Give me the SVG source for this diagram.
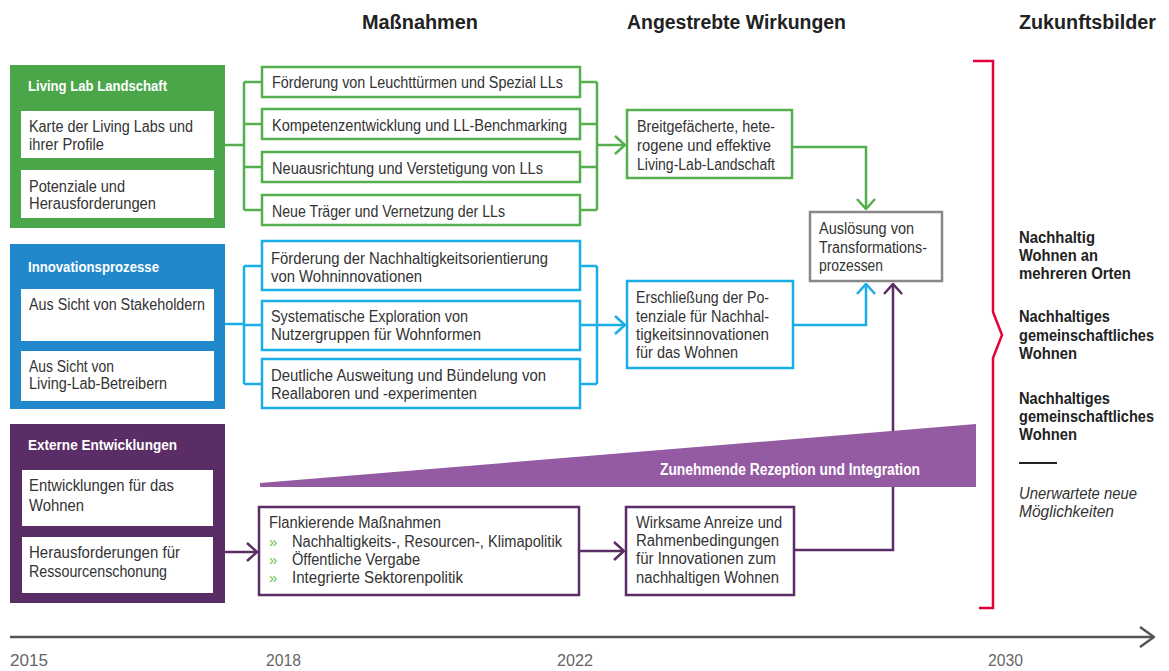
<svg xmlns="http://www.w3.org/2000/svg" width="1169" height="671" viewBox="0 0 1169 671">
<style>
text{font-family:"Liberation Sans",Arial,sans-serif;fill:#333;font-size:16px}
.t{font-size:15px;font-weight:bold;fill:#fff}
.h{font-size:20px;font-weight:bold;fill:#222}
.b{font-weight:bold;fill:#222}
.i{font-style:italic}
.y{fill:#666}
.gs{fill:#fff;stroke:#55AF4F;stroke-width:2.5}
.bs{fill:#fff;stroke:#1AADE6;stroke-width:2.5}
.ps{fill:#fff;stroke:#5B2D66;stroke-width:2.5}
.cg{fill:none;stroke:#55AF4F;stroke-width:2.5}
.cb{fill:none;stroke:#1AADE6;stroke-width:2.5}
.cp{fill:none;stroke:#5B2D66;stroke-width:2.5}
.bul{fill:#6DBE45;font-size:15px}
</style>
<defs>
<marker id="ag" viewBox="0 0 12 20" refX="11" refY="10" markerWidth="12" markerHeight="20" markerUnits="userSpaceOnUse" orient="auto"><path d="M1,1 L11,10 L1,19" fill="none" stroke="#55AF4F" stroke-width="2.5"/></marker>
<marker id="ab" viewBox="0 0 12 20" refX="11" refY="10" markerWidth="12" markerHeight="20" markerUnits="userSpaceOnUse" orient="auto"><path d="M1,1 L11,10 L1,19" fill="none" stroke="#1AADE6" stroke-width="2.5"/></marker>
<marker id="ap" viewBox="0 0 12 20" refX="11" refY="10" markerWidth="12" markerHeight="20" markerUnits="userSpaceOnUse" orient="auto"><path d="M1,1 L11,10 L1,19" fill="none" stroke="#5B2D66" stroke-width="2.5"/></marker>
<marker id="ak" viewBox="0 0 16 22" refX="15" refY="11" markerWidth="16" markerHeight="22" markerUnits="userSpaceOnUse" orient="auto"><path d="M1,1 L15,11 L1,21" fill="none" stroke="#555" stroke-width="2.5"/></marker>
</defs>

<g id="headers">
<text class="h" x="362" y="29" textLength="116" lengthAdjust="spacingAndGlyphs">Maßnahmen</text>
<text class="h" x="627" y="29" textLength="219" lengthAdjust="spacingAndGlyphs">Angestrebte Wirkungen</text>
<text class="h" x="1019" y="29" textLength="137" lengthAdjust="spacingAndGlyphs">Zukunftsbilder</text>
</g>

<g id="connectors">
<path class="cg" d="M225,145 H244 M244,82 V210 M244,82 H262 M244,124 H262 M244,167 H262 M244,210 H262"/>
<path class="cg" d="M580,82 H597 M580,124 H597 M580,167 H597 M580,210 H597 M597,82 V210"/>
<path class="cg" d="M597,145 H625" marker-end="url(#ag)"/>
<path class="cg" d="M792,147 H866 V209" marker-end="url(#ag)"/>
<path class="cb" d="M225,324 H244 M244,266 V384 M244,266 H262 M244,325 H262 M244,384 H262"/>
<path class="cb" d="M580,266 H597 M580,325 H597 M580,384 H597 M597,266 V384"/>
<path class="cb" d="M597,325 H625" marker-end="url(#ab)"/>
<path class="cb" d="M793,325 H866 V284" marker-end="url(#ab)"/>
<path class="cp" d="M225,552 H257" marker-end="url(#ap)"/>
<path class="cp" d="M579,551 H624" marker-end="url(#ap)"/>
<path class="cp" d="M794,550 H893 V284" marker-end="url(#ap)"/>
<path d="M10,637 H1154" fill="none" stroke="#555" stroke-width="2.5" marker-end="url(#ak)"/>
<path d="M973,61 H993 V312 L1002,335 L993,358 V608 H979" fill="none" stroke="#E4003A" stroke-width="2.5"/>
</g>

<g id="wedge">
<polygon points="260,483 976,424 976,487 260,487" fill="#945BA3"/>
<text class="b" x="660" y="475" textLength="260" lengthAdjust="spacingAndGlyphs" style="fill:#fff">Zunehmende Rezeption und Integration</text>
</g>

<g id="living-lab">
<rect x="10" y="65" width="215" height="163" fill="#4BA64A"/>
<text class="t" x="28" y="91" textLength="139" lengthAdjust="spacingAndGlyphs">Living Lab Landschaft</text>
<rect x="21" y="111" width="193" height="47" fill="#fff"/>
<text x="29" y="132" textLength="164" lengthAdjust="spacingAndGlyphs">Karte der Living Labs und</text>
<text x="29" y="150" textLength="75" lengthAdjust="spacingAndGlyphs">ihrer Profile</text>
<rect x="21" y="170" width="193" height="48" fill="#fff"/>
<text x="29" y="192" textLength="96" lengthAdjust="spacingAndGlyphs">Potenziale und</text>
<text x="29" y="209" textLength="127" lengthAdjust="spacingAndGlyphs">Herausforderungen</text>
</g>

<g id="innovation">
<rect x="10" y="244" width="215" height="165" fill="#2288CC"/>
<text class="t" x="28" y="272" textLength="131" lengthAdjust="spacingAndGlyphs">Innovationsprozesse</text>
<rect x="21" y="289" width="193" height="52" fill="#fff"/>
<text x="29" y="310" textLength="176" lengthAdjust="spacingAndGlyphs">Aus Sicht von Stakeholdern</text>
<rect x="21" y="351" width="193" height="50" fill="#fff"/>
<text x="29" y="372" textLength="85" lengthAdjust="spacingAndGlyphs">Aus Sicht von</text>
<text x="29" y="389" textLength="138" lengthAdjust="spacingAndGlyphs">Living-Lab-Betreibern</text>
</g>

<g id="extern">
<rect x="10" y="424" width="215" height="179" fill="#5B2D66"/>
<text class="t" x="28" y="450" textLength="149" lengthAdjust="spacingAndGlyphs">Externe Entwicklungen</text>
<rect x="22" y="470" width="191" height="56" fill="#fff"/>
<text x="29" y="491" textLength="145" lengthAdjust="spacingAndGlyphs">Entwicklungen für das</text>
<text x="29" y="511" textLength="55" lengthAdjust="spacingAndGlyphs">Wohnen</text>
<rect x="22" y="537" width="191" height="56" fill="#fff"/>
<text x="29" y="558" textLength="151" lengthAdjust="spacingAndGlyphs">Herausforderungen für</text>
<text x="29" y="577" textLength="138" lengthAdjust="spacingAndGlyphs">Ressourcenschonung</text>
</g>

<g id="g1"><rect class="gs" x="262" y="67" width="318" height="30"/>
<text x="272" y="88" textLength="291" lengthAdjust="spacingAndGlyphs">Förderung von Leuchttürmen und Spezial LLs</text></g>
<g id="g2"><rect class="gs" x="262" y="109" width="318" height="30"/>
<text x="272" y="131" textLength="295" lengthAdjust="spacingAndGlyphs">Kompetenzentwicklung und LL-Benchmarking</text></g>
<g id="g3"><rect class="gs" x="262" y="152" width="318" height="30"/>
<text x="272" y="174" textLength="271" lengthAdjust="spacingAndGlyphs">Neuausrichtung und Verstetigung von LLs</text></g>
<g id="g4"><rect class="gs" x="262" y="195" width="318" height="30"/>
<text x="272" y="217" textLength="233" lengthAdjust="spacingAndGlyphs">Neue Träger und Vernetzung der LLs</text></g>

<g id="b1"><rect class="bs" x="262" y="241" width="318" height="49"/>
<text x="271" y="264" textLength="277" lengthAdjust="spacingAndGlyphs">Förderung der Nachhaltigkeitsorientierung</text>
<text x="271" y="282" textLength="151" lengthAdjust="spacingAndGlyphs">von Wohninnovationen</text></g>
<g id="b2"><rect class="bs" x="262" y="301" width="318" height="49"/>
<text x="271" y="322" textLength="197" lengthAdjust="spacingAndGlyphs">Systematische Exploration von</text>
<text x="271" y="340" textLength="210" lengthAdjust="spacingAndGlyphs">Nutzergruppen für Wohnformen</text></g>
<g id="b3"><rect class="bs" x="262" y="359" width="318" height="49"/>
<text x="271" y="381" textLength="275" lengthAdjust="spacingAndGlyphs">Deutliche Ausweitung und Bündelung von</text>
<text x="271" y="399" textLength="206" lengthAdjust="spacingAndGlyphs">Reallaboren und -experimenten</text></g>

<g id="flank"><rect class="ps" x="259" y="507" width="320" height="88"/>
<text x="269" y="528" textLength="172" lengthAdjust="spacingAndGlyphs">Flankierende Maßnahmen</text>
<text class="bul" x="269" y="547">»</text>
<text x="292" y="547" textLength="270" lengthAdjust="spacingAndGlyphs">Nachhaltigkeits-, Resourcen-, Klimapolitik</text>
<text class="bul" x="269" y="565">»</text>
<text x="292" y="565" textLength="128" lengthAdjust="spacingAndGlyphs">Öffentliche Vergabe</text>
<text class="bul" x="269" y="583">»</text>
<text x="292" y="583" textLength="171" lengthAdjust="spacingAndGlyphs">Integrierte Sektorenpolitik</text></g>

<g id="w-green"><rect class="gs" x="627" y="110" width="165" height="68"/>
<text x="637" y="132" textLength="138" lengthAdjust="spacingAndGlyphs">Breitgefächerte, hete-</text>
<text x="637" y="151" textLength="134" lengthAdjust="spacingAndGlyphs">rogene und effektive</text>
<text x="637" y="170" textLength="138" lengthAdjust="spacingAndGlyphs">Living-Lab-Landschaft</text></g>

<g id="w-blue"><rect class="bs" x="627" y="281" width="166" height="87"/>
<text x="636" y="303" textLength="133" lengthAdjust="spacingAndGlyphs">Erschließung der Po-</text>
<text x="636" y="322" textLength="133" lengthAdjust="spacingAndGlyphs">tenziale für Nachhal-</text>
<text x="636" y="340" textLength="133" lengthAdjust="spacingAndGlyphs">tigkeitsinnovationen</text>
<text x="636" y="358" textLength="102" lengthAdjust="spacingAndGlyphs">für das Wohnen</text></g>

<g id="w-purple"><rect class="ps" x="626" y="507" width="168" height="88"/>
<text x="636" y="528" textLength="146" lengthAdjust="spacingAndGlyphs">Wirksame Anreize und</text>
<text x="636" y="546" textLength="143" lengthAdjust="spacingAndGlyphs">Rahmenbedingungen</text>
<text x="636" y="564" textLength="140" lengthAdjust="spacingAndGlyphs">für Innovationen zum</text>
<text x="636" y="583" textLength="143" lengthAdjust="spacingAndGlyphs">nachhaltigen Wohnen</text></g>

<g id="transformation"><rect x="810" y="212" width="132" height="69" fill="#fff" stroke="#888" stroke-width="2.5"/>
<text x="819" y="234" textLength="95" lengthAdjust="spacingAndGlyphs">Auslösung von</text>
<text x="819" y="253" textLength="108" lengthAdjust="spacingAndGlyphs">Transformations-</text>
<text x="819" y="271" textLength="64" lengthAdjust="spacingAndGlyphs">prozessen</text></g>

<g id="zukunft">
<text class="b" x="1019" y="243" textLength="76" lengthAdjust="spacingAndGlyphs">Nachhaltig</text>
<text class="b" x="1019" y="261" textLength="79" lengthAdjust="spacingAndGlyphs">Wohnen an</text>
<text class="b" x="1019" y="279" textLength="112" lengthAdjust="spacingAndGlyphs">mehreren Orten</text>
<text class="b" x="1019" y="322" textLength="91" lengthAdjust="spacingAndGlyphs">Nachhaltiges</text>
<text class="b" x="1019" y="341" textLength="135" lengthAdjust="spacingAndGlyphs">gemeinschaftliches</text>
<text class="b" x="1019" y="359" textLength="58" lengthAdjust="spacingAndGlyphs">Wohnen</text>
<text class="b" x="1019" y="404" textLength="91" lengthAdjust="spacingAndGlyphs">Nachhaltiges</text>
<text class="b" x="1019" y="422" textLength="135" lengthAdjust="spacingAndGlyphs">gemeinschaftliches</text>
<text class="b" x="1019" y="440" textLength="58" lengthAdjust="spacingAndGlyphs">Wohnen</text>
<line x1="1019" y1="463" x2="1057" y2="463" stroke="#222" stroke-width="2"/>
<text class="i" x="1019" y="499" textLength="118" lengthAdjust="spacingAndGlyphs">Unerwartete neue</text>
<text class="i" x="1019" y="517" textLength="95" lengthAdjust="spacingAndGlyphs">Möglichkeiten</text>
</g>

<g id="years">
<text class="y" x="10" y="666" textLength="38" lengthAdjust="spacingAndGlyphs">2015</text>
<text class="y" x="266" y="666" textLength="35" lengthAdjust="spacingAndGlyphs">2018</text>
<text class="y" x="557" y="666" textLength="36" lengthAdjust="spacingAndGlyphs">2022</text>
<text class="y" x="988" y="666" textLength="35" lengthAdjust="spacingAndGlyphs">2030</text>
</g>
</svg>
